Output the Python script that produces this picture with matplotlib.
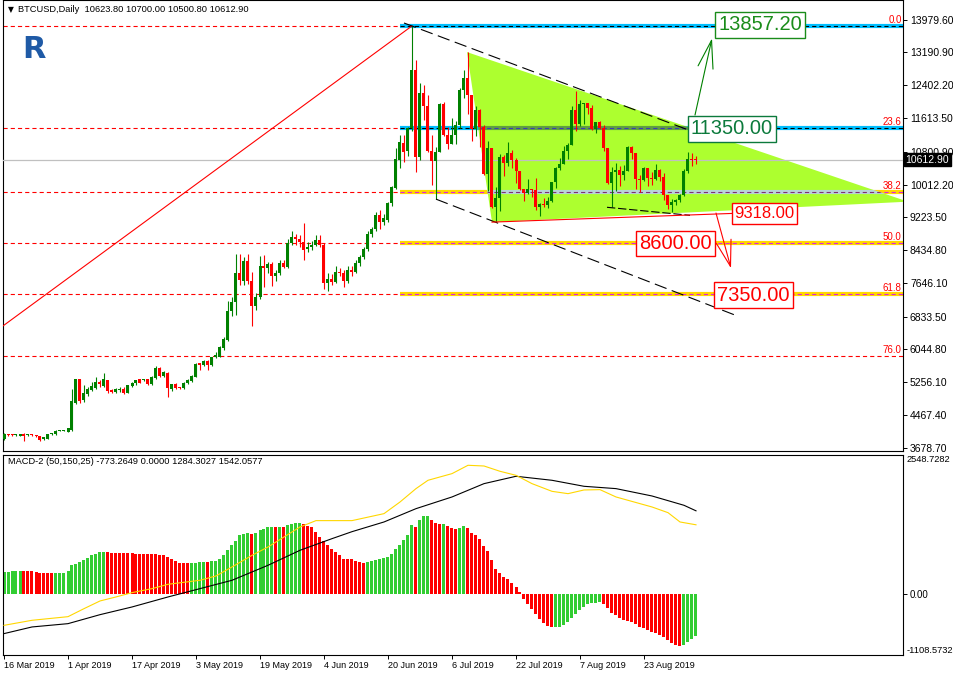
import numpy as np
import pandas as pd
import matplotlib
matplotlib.use("Agg")
import matplotlib.pyplot as plt
import matplotlib.transforms as mtransforms
from matplotlib.patches import Polygon

plt.rcParams['font.family'] = ['Liberation Sans', 'DejaVu Sans']
plt.rcParams['lines.scale_dashes'] = False

# ---- daily BTCUSD candles, one per day starting 16 Mar 2019 ----
first_day = "2019-03-16"
opens = [3880, 4000, 3990, 3980, 3960, 4020, 3980, 3990, 3960, 3957,
         3877, 3893, 4005, 4005, 4085, 4085, 4061, 4102, 4759, 5321,
         4824, 4968, 5064, 5120, 5265, 5169, 5305, 5064, 5024, 5075,
         5080, 5000, 5169, 5225, 5321, 5305, 5321, 5209, 5361, 5602,
         5401, 5481, 5080, 5201, 5125, 5120, 5225, 5289, 5385, 5706,
         5666, 5762, 5666, 5850, 5867, 6067, 6268, 6966, 7174, 7872,
         7696, 8169, 7688, 7094, 7311, 8049, 7993, 8097, 7808, 7872,
         8129, 8033, 8595, 8755, 8690, 8635, 8450, 8498, 8563, 8675,
         8555, 7648, 7728, 7672, 7897, 7872, 7696, 7953, 7913, 8113,
         8258, 8450, 8819, 8932, 9277, 9116, 9156, 9557, 9918, 10600,
         11001, 10817, 11363, 12766, 10681, 12205, 11900, 10818, 10583, 10801,
         11961, 11215, 10978, 11208, 11450, 12285, 12573, 12156, 11358, 11815,
         11392, 10256, 10895, 9477, 9693, 10666, 10530, 10767, 10599, 10343,
         9900, 9811, 9912, 9870, 9477, 9552, 9519, 9607, 10085, 10400,
         10518, 10821, 10970, 11805, 11479, 11941, 11966, 11862, 11354, 11523,
         11382, 10895, 10052, 10311, 10374, 10231, 10345, 10916, 10763, 10138,
         10131, 10407, 10160, 10139, 10370, 10185, 9755, 9510, 9598, 9630,
         9757, 10347, 10624, 10623.8]
highs = [4030, 4015, 4010, 4005, 4020, 4030, 4000, 4005, 3985, 3965,
         3935, 4015, 4035, 4095, 4105, 4115, 4160, 5088, 5340, 5340,
         5185, 5130, 5250, 5370, 5300, 5465, 5320, 5100, 5110, 5140,
         5135, 5200, 5260, 5320, 5340, 5340, 5335, 5400, 5640, 5620,
         5530, 5500, 5215, 5225, 5140, 5260, 5330, 5420, 5720, 5720,
         5800, 5790, 5870, 5980, 6120, 6340, 7200, 7300, 8330, 8337,
         8273, 8350, 7900, 7400, 8300, 8314, 8150, 8140, 7960, 8200,
         8200, 8700, 8900, 8830, 8800, 9092, 8620, 8650, 8800, 8800,
         8600, 7880, 7850, 8050, 8000, 7950, 8060, 8050, 8200, 8320,
         8500, 8900, 9000, 9350, 9400, 9300, 9600, 9980, 10900, 11200,
         11200, 11400, 13830, 13000, 12446, 12420, 12178, 11207, 10913, 11969,
         12007, 11395, 11621, 11552, 12342, 12764, 13200, 12156, 11905, 11841,
         11451, 11052, 10897, 9964, 10736, 10716, 11048, 10841, 10657, 10346,
         9916, 10154, 9916, 10167, 9575, 9681, 9701, 10085, 10446, 10657,
         10946, 11009, 11895, 12274, 12036, 11979, 11970, 11915, 11523, 11539,
         11447, 10895, 10437, 10524, 10452, 10487, 10947, 10947, 10765, 10232,
         10441, 10418, 10305, 10512, 10381, 10279, 9756, 9655, 9673, 9796,
         10396, 10789, 10781, 10700]
lows = [3870, 3965, 3960, 3960, 3950, 3837, 3960, 3965, 3940, 3837,
        3860, 3885, 3990, 3995, 4070, 4075, 4050, 4090, 4740, 4760,
        4790, 4930, 5040, 5100, 5150, 5150, 4990, 4990, 5000, 5030,
        4960, 4990, 5140, 5200, 5225, 5280, 5180, 5190, 5340, 5380,
        5380, 4900, 5050, 5100, 5090, 5100, 5210, 5270, 5370, 5560,
        5640, 5560, 5640, 5830, 5850, 6040, 6250, 6850, 6870, 7592,
        7592, 7620, 6612, 7000, 7250, 7552, 7880, 7560, 7700, 7840,
        8000, 8000, 8550, 8560, 8500, 8193, 8400, 8440, 8540, 8500,
        7500, 7440, 7600, 7650, 7800, 7550, 7650, 7800, 7880, 8050,
        8220, 8420, 8740, 8900, 8950, 9050, 9100, 9500, 9900, 10400,
        10560, 10700, 11300, 10320, 10600, 11575, 10799, 10006, 9661, 10801,
        11177, 10874, 10978, 10985, 11365, 12103, 11710, 11070, 11180, 10908,
        10234, 9866, 9445, 9117, 9376, 10229, 10451, 10417, 10049, 9883,
        9612, 9774, 9717, 9411, 9252, 9472, 9444, 9599, 9923, 10371,
        10503, 10620, 10960, 11290, 11433, 11480, 11709, 11323, 11248, 11339,
        10830, 10028, 9465, 9855, 9980, 10119, 10331, 10618, 9908, 9831,
        10088, 9968, 9991, 10126, 10087, 9638, 9421, 9354, 9531, 9582,
        9730, 10292, 10457, 10500.8]
closes = [4020, 3985, 3980, 3990, 4005, 3957, 3985, 3980, 3957, 3861,
          3925, 4005, 4021, 4085, 4090, 4102, 4142, 4799, 5321, 4799,
          5000, 5080, 5160, 5265, 5201, 5321, 5040, 5016, 5096, 5085,
          5000, 5185, 5241, 5305, 5241, 5321, 5209, 5385, 5602, 5401,
          5505, 5104, 5201, 5120, 5115, 5241, 5305, 5401, 5682, 5666,
          5762, 5666, 5850, 5907, 6091, 6292, 6966, 7174, 7872, 7712,
          8169, 7688, 7094, 7311, 8049, 7993, 8097, 7808, 7872, 8129,
          8033, 8595, 8755, 8690, 8635, 8434, 8514, 8563, 8675, 8555,
          7632, 7728, 7672, 7897, 7872, 7696, 7953, 7913, 8129, 8258,
          8450, 8819, 8932, 9277, 9116, 9196, 9573, 9942, 10616, 11041,
          10801, 11363, 12766, 10681, 12205, 11900, 10818, 10583, 10801, 11961,
          11215, 10978, 11208, 11450, 12285, 12573, 12156, 11358, 11815, 11392,
          10256, 10895, 9477, 9693, 10666, 10530, 10767, 10599, 10343, 9900,
          9811, 9912, 9870, 9477, 9552, 9519, 9607, 10085, 10400, 10518,
          10821, 10970, 11805, 11479, 11941, 11966, 11862, 11354, 11523, 11382,
          10895, 10052, 10311, 10374, 10231, 10345, 10916, 10763, 10138, 10131,
          10407, 10160, 10139, 10370, 10185, 9755, 9510, 9598, 9630, 9757,
          10347, 10624, 10594, 10612.9]

# ---- MACD-2 (50,150,25) ----
macd_hist = [420, 421, 422, 424, 425, 424, 423, 422, 406, 400,
             392, 389, 387, 388, 389, 390, 437, 536, 560, 597,
             640, 671, 720, 745, 774, 776, 775, 760, 758, 757,
             756, 755, 754, 753, 752, 750, 745, 741, 739, 735,
             720, 683, 646, 610, 585, 574, 572, 573, 585, 591,
             597, 595, 610, 622, 646, 733, 813, 905, 991, 1090,
             1121, 1139, 1114, 1139, 1182, 1213, 1244, 1245, 1238, 1244,
             1240, 1274, 1293, 1322, 1324, 1305, 1262, 1244, 1151, 1059,
             979, 905, 844, 782, 720, 659, 650, 646, 610, 597,
             573, 591, 610, 628, 646, 665, 690, 739, 831, 917,
             997, 1090, 1274, 1250, 1367, 1440, 1442, 1367, 1311, 1293,
             1295, 1256, 1225, 1201, 1225, 1256, 1219, 1139, 1096, 1016,
             887, 794, 628, 468, 394, 314, 277, 203, 129, 37,
             -92, -185, -265, -369, -462, -530, -591, -610, -609, -607,
             -573, -511, -437, -363, -296, -234, -185, -162, -160, -142,
             -185, -252, -339, -388, -437, -474, -486, -511, -548, -603,
             -622, -659, -696, -708, -745, -788, -850, -899, -930, -954,
             -942, -880, -825, -773]
macd_black_k = [0, 7, 16, 24, 32, 41, 49, 57, 66, 74, 82, 87, 95, 103,
                112, 120, 128, 137, 145, 153, 162, 170, 173]
macd_black_v = [-726, -603, -542, -376, -234, -49, 105, 259, 536, 813, 1028,
                1157, 1336, 1582, 1798, 2044, 2180, 2106, 1995, 1952, 1816,
                1644, 1542]
macd_gold_k = [0, 7, 16, 20, 24, 28, 32, 37, 41, 49, 53, 57, 62, 66, 70, 74,
               78, 87, 95, 99, 103, 106, 112, 116, 120, 124, 128, 132, 137,
               141, 145, 149, 153, 162, 166, 169, 173]
macd_gold_v = [-573, -480, -413, -265, -123, -49, 31, 105, 185, 259, 339, 505,
               720, 874, 1059, 1244, 1361, 1361, 1490, 1705, 1952, 2106, 2229,
               2383, 2370, 2272, 2198, 2044, 1902, 1859, 1927, 1933, 1798,
               1613, 1508, 1336, 1284]
macd_max = 2548.7282
macd_min = -1108.5732

# ---- axis texts ----
price_ticks = [13979.60, 13190.90, 12402.20, 11613.50, 10800.90, 10012.20,
               9223.50, 8434.80, 7646.10, 6833.50, 6044.80, 5256.10,
               4467.40, 3678.70]
last_price = 10612.90
header = "BTCUSD,Daily  10623.80 10700.00 10500.80 10612.90"
macd_title = "MACD-2 (50,150,25) -773.2649 0.0000 1284.3027 1542.0577"

# ---- drawn objects (bar index, price) ----
fib_k = [-46, 102]
fib_p = [3380, 13830]
fib_ratios = [0.0, 23.6, 38.2, 50.0, 61.8, 76.0]
triangle_k = [115.75, 122, 226]
triangle_p = [13200, 9108, 9600]
upper_chan_k, upper_chan_p = [100, 176.5], [13900, 11130]
lower_chan_k, lower_chan_p = [108, 183.5], [9661, 6843]
support_k, support_p = [150.75, 171.5], [9465, 9272]
red_line_k, red_line_p = [122, 182.3], [9108, 9318]
up_arrow_k, up_arrow_p = [172.75, 177], [11685, 13532]
down_arrow_k, down_arrow_p = [178, 181.75], [9327, 7997]
targets = [13857.20, 11350.00, 9318.00, 8600.00, 7350.00]
target_k = [189, 182, 190.1, 167.9, 187.4]
target_col = ['#1a8c1a', '#0c7a3c', 'red', 'red', 'red']
target_big = [True, True, False, True, True]

GREEN = '#008000'
RED = '#ff0000'
n = len(closes)
idx = np.arange(n)
o = np.array(opens, float)
h = np.array(highs, float)
l = np.array(lows, float)
c = np.array(closes, float)
dates = pd.date_range(first_day, periods=n, freq='D')

fig = plt.figure(figsize=(9.54, 6.76), dpi=100)
ax = fig.add_axes([3 / 954, 1 - 451 / 676, 900 / 954, 451 / 676])
axm = fig.add_axes([3 / 954, 1 - 655 / 676, 900 / 954, 200 / 676])

xlim = (-0.25, 224.75)
ax.set_xlim(*xlim)
ax.set_ylim(3599.7, 14453.7)
axm.set_xlim(*xlim)
axm.set_ylim(-1121, 2573)

# fibonacci levels
fib_hi, fib_lo = fib_p[1], fib_p[0]
levels = [fib_hi - r / 100 * (fib_hi - fib_lo) for r in fib_ratios]
for r, lv in zip(fib_ratios, levels):
    ax.axhline(lv, color=RED, lw=0.8, ls=(0, (3, 2.2)), zorder=1)
    ax.text(224.4, lv + 25, f"{r:.1f}", color=RED, fontsize=7,
            ha='right', va='bottom', zorder=7)
ax.plot(fib_k, fib_p, color=RED, lw=0.8, zorder=3.6)

# triangle
tri = Polygon(list(zip(triangle_k, triangle_p)), closed=True,
              facecolor='#adff2f', edgecolor='none', zorder=3)
ax.add_patch(tri)

# coloured level bands
band_start = 99
band_style = {0.0: ('#00bfff', 'black', '#5f9f3f', '#3c3cb4'),
              23.6: ('#00bfff', 'black', '#5f9f3f', '#3c3cb4'),
              38.2: ('#ffd700', '#e020e0', '#b8d4d8', '#803070'),
              50.0: ('#ffd700', '#e020e0', '#b8d4d8', '#803070'),
              61.8: ('#ffd700', '#e020e0', '#b8d4d8', '#803070')}
for r, lv in zip(fib_ratios, levels):
    if r not in band_style:
        continue
    bcol, dcol, icol, idcol = band_style[r]
    ax.plot([band_start, xlim[1]], [lv, lv], color=bcol, lw=3, zorder=2,
            solid_capstyle='butt')
    ax.plot([band_start, xlim[1]], [lv, lv], color=dcol, lw=0.8,
            ls=(0, (3, 2.2)), zorder=2.1)
    inner = ax.plot([band_start, xlim[1]], [lv, lv], color=icol, lw=3,
                    zorder=3.2, solid_capstyle='butt')[0]
    inner.set_clip_path(tri)
    inner_d = ax.plot([band_start, xlim[1]], [lv, lv], color=idcol, lw=0.8,
                      ls=(0, (3, 2.2)), zorder=3.3)[0]
    inner_d.set_clip_path(tri)

ax.axhline(last_price, color='#c0c0c0', lw=0.9, zorder=3.5)

# candles
up = c >= o
cols = np.where(up, GREEN, RED)
ax.vlines(idx, l, h, colors=cols, lw=0.8, zorder=4)
body = np.maximum(np.abs(c - o), 24)
ax.bar(idx, body, bottom=np.minimum(o, c), width=0.75, color=cols,
       linewidth=0, zorder=4.1)

# trend lines
dash = (0, (9, 4))
ax.plot(upper_chan_k, upper_chan_p, color='black', lw=0.8, ls=dash, zorder=5)
ax.plot(lower_chan_k, lower_chan_p, color='black', lw=0.8, ls=dash, zorder=5)
ax.plot(support_k, support_p, color='black', lw=0.8, ls=(0, (6, 2)), zorder=5)
ax.plot(red_line_k, red_line_p, color=RED, lw=0.8, zorder=5)

ax.annotate('', xy=(up_arrow_k[1], up_arrow_p[1]),
            xytext=(up_arrow_k[0], up_arrow_p[0]),
            arrowprops=dict(arrowstyle='->,head_length=0.8,head_width=0.22',
                            color=GREEN, lw=0.8, mutation_scale=25,
                            shrinkA=0, shrinkB=0), zorder=6)
ax.annotate('', xy=(down_arrow_k[1], down_arrow_p[1]),
            xytext=(down_arrow_k[0], down_arrow_p[0]),
            arrowprops=dict(arrowstyle='->,head_length=0.75,head_width=0.22',
                            color=RED, lw=0.8, mutation_scale=25,
                            shrinkA=0, shrinkB=0), zorder=6)

for val, kx, col, big in zip(targets, target_k, target_col, target_big):
    ax.text(kx, val, f"{val:.2f}", color=col, fontsize=14.5 if big else 12,
            ha='center', va='center', zorder=7,
            bbox=dict(boxstyle='square,pad=0.16', fc='white', ec=col, lw=1))

# price axis
ax.yaxis.tick_right()
ax.set_yticks(price_ticks)
ax.set_yticklabels([f"{v:.2f}" for v in price_ticks])
ax.set_xticks([])
ax.tick_params(axis='y', direction='out', length=3, width=0.7,
               labelsize=7.5, pad=2)
trans = mtransforms.blended_transform_factory(ax.transAxes, ax.transData)
ax.text(1.003, last_price, f"{last_price:.2f}", transform=trans, color='white',
        fontsize=7.5, ha='left', va='center', zorder=8,
        bbox=dict(boxstyle='square,pad=0.15', fc='black', ec='black'))

# MACD panel
hist = np.array(macd_hist, float)
hcol = []
for i, v in enumerate(hist):
    if i == 0 or v > hist[i - 1]:
        hcol.append('#32cd32')
    elif v < hist[i - 1]:
        hcol.append(RED)
    else:
        hcol.append(hcol[-1])
axm.bar(idx, hist, width=0.75, color=hcol, linewidth=0, zorder=2)
axm.plot(macd_black_k, macd_black_v, color='black', lw=0.8, zorder=3)
axm.plot(macd_gold_k, macd_gold_v, color='#ffd700', lw=0.8, zorder=3)
axm.yaxis.tick_right()
axm.set_yticks([0])
axm.set_yticklabels(['0.00'])
axm.tick_params(axis='y', direction='out', length=3, width=0.7,
                labelsize=7, pad=2)
axm.text(1.004, 1.0, f"{macd_max:.4f}", transform=axm.transAxes,
         fontsize=6.7, ha='left', va='top')
axm.text(1.004, 0.0, f"{macd_min:.4f}", transform=axm.transAxes,
         fontsize=6.7, ha='left', va='bottom')

tick_idx = list(range(0, n, 16))
axm.set_xticks(tick_idx)
axm.set_xticklabels([f"{dates[i].day} {dates[i].strftime('%b %Y')}"
                     for i in tick_idx], ha='left')
axm.tick_params(axis='x', direction='out', length=3, width=0.7,
                labelsize=6.5, pad=1)

for a in (ax, axm):
    for s in a.spines.values():
        s.set_linewidth(0.8)
        s.set_color('black')

fig.text(8 / 954, 1 - 10 / 676, "\u25bc", fontsize=5.5, va='center',
         family='DejaVu Sans')
fig.text(18 / 954, 1 - 10 / 676, header, fontsize=6.7, va='center')
fig.text(8 / 954, 1 - 462 / 676, macd_title, fontsize=6.7, va='center')
fig.text(22 / 954, 1 - 50 / 676, "R", fontsize=22, fontweight='bold',
         color='#1f5aa6', va='center', ha='left', family='DejaVu Sans')

fig.savefig("out.png", dpi=100)
